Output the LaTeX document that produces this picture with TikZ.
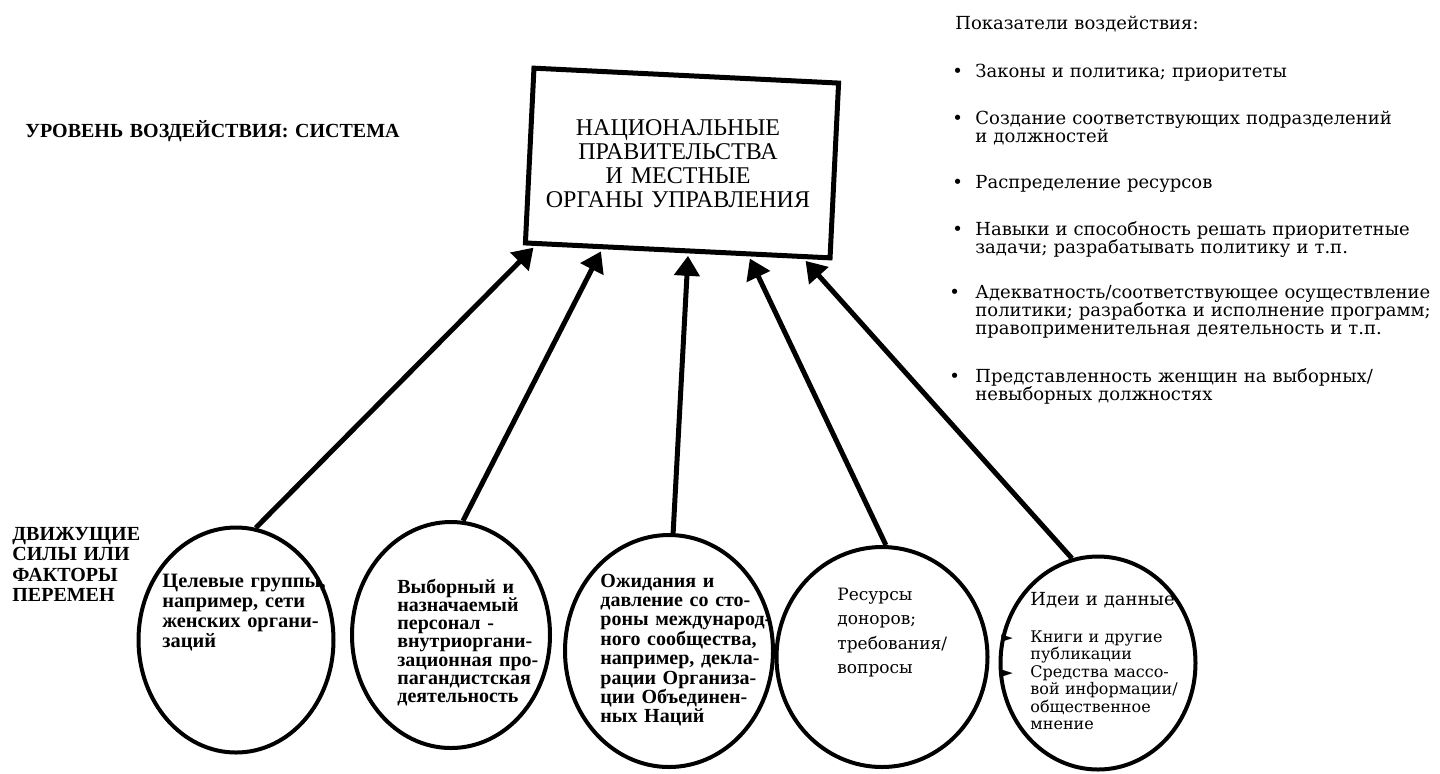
\documentclass[tikz,border=0pt]{standalone}
\usepackage{fontspec}
\setmainfont{Liberation Serif}
\newfontfamily\schfont{DejaVu Serif}
\newfontfamily\symfont{DejaVu Sans}
\usetikzlibrary{arrows.meta,shapes.geometric,calc}
\begin{document}
\begin{tikzpicture}[
    x=.5pt,y=-.5pt,
    every node/.style={inner sep=0pt},
    txt/.style={anchor=base west,align=left,text width=#1},
    txt/.default=120pt,
    caps/.style={txt=220pt,font=\bfseries\fontsize{10}{10.3}\selectfont},
    ind/.style={txt=240pt,font=\schfont\fontsize{9}{9}\selectfont},
    dot/.style={anchor=base west,font=\schfont\fontsize{9}{9}\selectfont},
    tri/.style={anchor=base west,font=\symfont\fontsize{7.5}{7.5}\selectfont},
    force/.style={ellipse,draw,line width=2pt},
    push/.style={-{Triangle[length=10pt,width=12.5pt]},line width=2.5pt,shorten >=1.2pt}]
    \useasboundingbox (0,0) rectangle (1440,773);
    \node[draw,line width=2.5pt,rotate=-2.8,minimum width=152.5pt,minimum height=87.5pt] (box) at (682,163) {};
    \node[anchor=base,align=center,text width=170pt,font=\fontsize{12}{12}\selectfont] (gov) at (678,135)
        {НАЦИОНАЛЬНЫЕ\\ПРАВИТЕЛЬСТВА\\И МЕСТНЫЕ\\ОРГАНЫ УПРАВЛЕНИЯ};
    \node[caps] (level) at (25,137) {УРОВЕНЬ ВОЗДЕЙСТВИЯ: СИСТЕМА};
    \node[caps] (drive) at (12,540) {ДВИЖУЩИЕ\\СИЛЫ ИЛИ\\ФАКТОРЫ\\ПЕРЕМЕН};

    \node[ind] (ind) at (955,29) {Показатели воздействия:};
    \node[dot] (d1) at (952,77) {•};
    \node[ind] (i1) at (975,77) {Законы и политика; приоритеты};
    \node[dot] (d2) at (952,124) {•};
    \node[ind] (i2) at (975,124) {Создание соответствующих подразделений\\и должностей};
    \node[dot] (d3) at (952,188) {•};
    \node[ind] (i3) at (975,188) {Распределение ресурсов};
    \node[dot] (d4) at (952,235) {•};
    \node[ind] (i4) at (975,235) {Навыки и способность решать приоритетные\\задачи; разрабатывать политику и т.п.};
    \node[dot] (d5) at (949,298) {•};
    \node[ind] (i5) at (975,298) {Адекватность/соответствующее осуществление\\политики; разработка и исполнение программ;\\правоприменительная деятельность и т.п.};
    \node[dot] (d6) at (949,382) {•};
    \node[ind] (i6) at (975,382) {Представленность женщин на выборных/\\невыборных должностях};

    \node[force,minimum width=97.5pt,minimum height=112.5pt] (e1) at (236,640) {};
    \node[force,minimum width=99pt,minimum height=113pt] (e2) at (451,635) {};
    \node[force,minimum width=104pt,minimum height=116pt] (e3) at (669,651) {};
    \node[force,minimum width=105.5pt,minimum height=110pt] (e4) at (882,657) {};
    \node[force,minimum width=97.5pt,minimum height=106.5pt] (e5) at (1098,663) {};

    \node[txt,font=\bfseries\fontsize{10.2}{10}\selectfont] (t1) at (162,587)
        {Целевые группы,\\например, сети\\женских органи-\\заций};
    \node[txt,font=\bfseries\fontsize{10}{9.15}\selectfont] (t2) at (397,593)
        {Выборный и\\назначаемый\\персонал -\\внутриоргани-\\зационная про-\\пагандистская\\деятельность};
    \node[txt,font=\bfseries\fontsize{10}{9.7}\selectfont] (t3) at (600,587)
        {Ожидания и\\давление со сто-\\роны международ-\\ного сообщества,\\например, декла-\\рации Организа-\\ции Объединен-\\ных Наций};
    \node[txt,font=\schfont\fontsize{8.5}{12.25}\selectfont] (t4) at (837,600)
        {Ресурсы\\доноров;\\требования/\\вопросы};
    \node[txt,font=\schfont\fontsize{9}{9}\selectfont] (t5) at (1030,605) {Идеи и данные};
    \node[tri] (m1) at (1001,642) {►};
    \node[txt,font=\schfont\fontsize{8}{8.8}\selectfont] (t5a) at (1030,642) {Книги и другие\\публикации};
    \node[tri] (m2) at (1001,677) {►};
    \node[txt,font=\schfont\fontsize{8}{8.8}\selectfont] (t5b) at (1030,677)
        {Средства массо-\\вой информации/\\общественное\\мнение};

    \draw[push] (e1.80) -- ($(box.south west)!.04!(box.south east)$);
    \draw[push] (e2.84) -- ($(box.south west)!.256!(box.south east)$);
    \draw[push] (e3.88) -- ($(box.south west)!.534!(box.south east)$);
    \draw[push] (e4.88) -- ($(box.south west)!.73!(box.south east)$);
    \draw[push] (e5.104) -- ($(box.south west)!.908!(box.south east)$);
\end{tikzpicture}
\end{document}
